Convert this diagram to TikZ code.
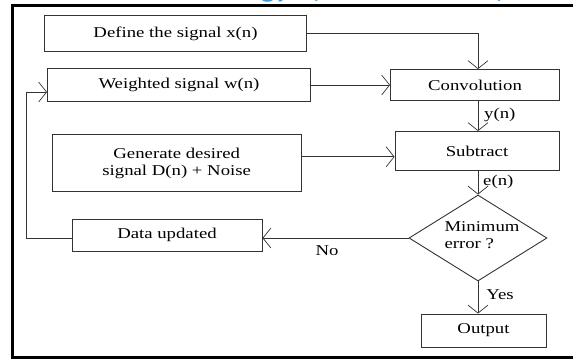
\documentclass[tikz,border=0pt]{standalone}
\usepackage{fontspec}
\setmainfont{Liberation Serif}[FakeStretch=1.25]
\newfontfamily\headfont{Carlito}[FakeStretch=1.1]
\usetikzlibrary{arrows.meta,shapes.geometric}
\definecolor{headblue}{HTML}{2A9BF0}
\definecolor{linegray}{HTML}{333333}
\begin{document}
\begin{tikzpicture}[x=1pt,y=-1pt,
  box/.style={draw=linegray,line width=0.9pt,rectangle,inner sep=0pt,font=\fontsize{15}{17}\selectfont,align=center},
  lbl/.style={inner sep=0pt,font=\fontsize{15}{17}\selectfont},
  conn/.style={draw=linegray,line width=0.9pt},
  arr/.style={conn,-{Straight Barb[length=8pt,width=20pt,line width=0.7pt]}},
  headtxt/.style={inner sep=0pt,text=headblue,font=\headfont\bfseries\fontsize{28}{30}\selectfont}]
\useasboundingbox (0,0) rectangle (573,360);
\begin{scope}
  \clip (0,0) rectangle (573,4.5);
  \node[headtxt,anchor=base east] (ttl1) at (290,-3) {Methodology};
  \node[headtxt,anchor=base west] (ttl2) at (310,-3) {(\makebox[176pt]{Flow Chart})};
\end{scope}
\draw[line width=3.5pt,black] (12.5,5.5) rectangle (590,357.5);

\node[box,minimum width=262pt,minimum height=36pt] (def) at (175.5,33.5) {Define the signal x(n)};
\node[box,minimum width=263pt,minimum height=33pt] (wgt) at (179,85) {Weighted signal w(n)};
\node[box,minimum width=169pt,minimum height=31pt] (conv) at (475,85) {Convolution};
\node[box,minimum width=249pt,minimum height=57pt] (gen) at (176.7,163.3) {Generate desired\\signal D(n) + Noise};
\node[box,minimum width=164pt,minimum height=39pt] (sub) at (477,151) {Subtract};
\node[draw=linegray,line width=0.9pt,diamond,aspect=1.6,inner sep=0pt,minimum width=138pt,minimum height=86pt] (dia) at (478,238) {};
\node[lbl,align=left] (dtxt) at (482,235) {Minimum\\error ?};
\node[box,minimum width=190pt,minimum height=32pt] (upd) at (167,235) {Data updated};
\node[box,minimum width=125pt,minimum height=33pt] (out) at (483.5,330.5) {Output};

\node[lbl,anchor=west] (yl) at (484,115) {y(n)};
\node[lbl,anchor=west] (el) at (483,182) {e(n)};
\node[lbl] (nol) at (327,251) {No};
\node[lbl] (yesl) at (500,295) {Yes};

\draw[arr] (def.east) -| (conv.north -| dia);
\draw[arr] (wgt.east) -- (conv.west);
\draw[arr] ([yshift=6.5pt]gen.east) -- ([yshift=6.5pt]gen.east -| sub.west);
\draw[arr] (conv.south -| dia) -- (sub.north -| dia);
\draw[arr] (sub.south -| dia) -- (dia.north);
\draw[arr] (dia.south) -- (out.north -| dia);
\draw[arr] (dia.west) -- (dia.west -| upd.east);
\coordinate (fb) at (26,238);
\draw[arr] (upd.west |- dia.west) -- (fb) |- ([yshift=-7pt]wgt.west);
\end{tikzpicture}
\end{document}
